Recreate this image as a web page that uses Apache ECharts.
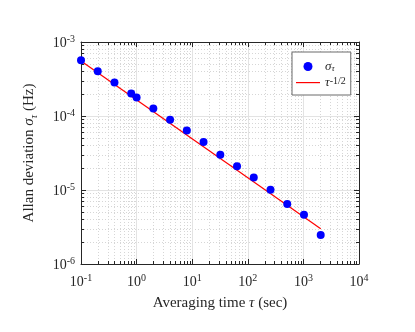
<!DOCTYPE html>
<html>
<head>
<meta charset="utf-8">
<script src="https://cdn.jsdelivr.net/npm/echarts@6/dist/echarts.min.js"></script>
<style>
  html, body { margin: 0; padding: 0; background: #fff; }
  #chart { width: 415px; height: 332px; }
</style>
</head>
<body>
<div id="chart"></div>
<script>
// averaging time tau (sec) and measured Allan deviation (Hz)
const tau = [0.1, 0.2, 0.4, 0.8, 1, 2, 4, 8, 16, 32, 64, 128, 256, 512, 1024, 2048];
const sigma = [5.66e-4, 4.03e-4, 2.83e-4, 2.01e-4, 1.78e-4, 1.26e-4, 8.9e-5, 6.38e-5,
               4.45e-5, 3.0e-5, 2.09e-5, 1.47e-5, 1.01e-5, 6.45e-6, 4.62e-6, 2.46e-6];
// tau^-1/2 reference line, read at both ends
const fitTau = [0.1, 2048];
const fitSigma = [5.55e-4, 3.0e-6];
// axis ranges (decades)
const xRange = [0.1, 1e4];
const yRange = [1e-6, 1e-3];
const xDecades = [-1, 0, 1, 2, 3];
const yDecades = [-6, -5, -4];

const FONT = 'Liberation Serif';
const AXIS = '#262626';

const chart = echarts.init(document.getElementById('chart'), null, { renderer: 'canvas' });

const supRich = {
  b: { fontFamily: FONT, fontSize: 14, color: AXIS, lineHeight: 16, verticalAlign: 'bottom' },
  sup: { fontFamily: FONT, fontSize: 10, color: AXIS, lineHeight: 12, verticalAlign: 'top', padding: [0, 0, 8, 0] }
};
const powLabel = v => '{b|10}{sup|' + Math.round(Math.log10(v)) + '}';

const baseAxis = {
  type: 'log',
  logBase: 10,
  axisLine: { show: true, onZero: false, lineStyle: { color: AXIS, width: 1 } },
  axisTick: { show: true, inside: true, length: 5, lineStyle: { color: AXIS } },
  minorTick: { show: false },
  splitLine: { show: false }
};

chart.setOption({
  animation: false,
  grid: { left: 81, right: 56, top: 42, bottom: 68 },
  xAxis: [
    Object.assign({}, baseAxis, {
      min: xRange[0], max: xRange[1], position: 'bottom',
      splitLine: { show: true, lineStyle: { color: '#e3e3e3', width: 1 } },
      axisLabel: { formatter: powLabel, rich: supRich, margin: 9 },
      name: '{t|Averaging time }{i|τ}{t| (sec)}',
      nameLocation: 'middle', nameGap: 29,
      nameTextStyle: {
        rich: {
          t: { fontFamily: FONT, fontSize: 15, color: AXIS },
          i: { fontFamily: FONT, fontSize: 15, color: AXIS, fontStyle: 'italic' }
        }
      }
    }),
    Object.assign({}, baseAxis, {
      min: xRange[0], max: xRange[1], position: 'top',
      axisLabel: { show: false }
    })
  ],
  yAxis: [
    Object.assign({}, baseAxis, {
      min: yRange[0], max: yRange[1], position: 'left',
      splitLine: { show: true, lineStyle: { color: '#e3e3e3', width: 1 } },
      axisLabel: { formatter: powLabel, rich: supRich, margin: 6 },
      name: '{t|Allan deviation }{i|σ}{sub|τ}{t| (Hz)}',
      nameLocation: 'middle', nameGap: 42,
      nameTextStyle: {
        rich: {
          t: { fontFamily: FONT, fontSize: 15, color: AXIS, lineHeight: 17, verticalAlign: 'top' },
          i: { fontFamily: FONT, fontSize: 15, color: AXIS, fontStyle: 'italic', lineHeight: 17, verticalAlign: 'top' },
          sub: { fontFamily: FONT, fontSize: 10, color: AXIS, fontStyle: 'italic', lineHeight: 12, verticalAlign: 'bottom', padding: [9, 0, 0, 0] }
        }
      }
    }),
    Object.assign({}, baseAxis, {
      min: yRange[0], max: yRange[1], position: 'right',
      axisLabel: { show: false }
    })
  ],
  legend: {
    orient: 'vertical',
    left: 292, top: 52,
    padding: [4, 5, 3, 4],
    itemGap: 3,
    itemWidth: 24,
    itemHeight: 9,
    backgroundColor: '#fff',
    borderColor: '#6b6b6b',
    borderWidth: 1,
    data: [
      { name: 'sigma', icon: 'circle' },
      { name: 'fit', icon: 'path://M0,0 M0,4 L24,4 L24,5.2 L0,5.2 Z M24,9' }
    ],
    formatter: n => n === 'sigma' ? '{i|σ}{sub|τ}' : '{i|τ}{sup|-1/2}',
    textStyle: {
      rich: {
        i: { fontFamily: FONT, fontSize: 13, color: AXIS, fontStyle: 'italic', lineHeight: 13, verticalAlign: 'middle' },
        sub: { fontFamily: FONT, fontSize: 9, color: AXIS, fontStyle: 'italic', lineHeight: 10, verticalAlign: 'bottom', padding: [8, 0, 0, 0] },
        sup: { fontFamily: FONT, fontSize: 10, color: AXIS, lineHeight: 11, verticalAlign: 'top', padding: [0, 0, 6, 0] }
      }
    }
  },
  series: [
    {
      name: 'fit',
      type: 'line',
      data: fitTau.map((t, i) => [t, fitSigma[i]]),
      symbol: 'none',
      lineStyle: { color: '#ff0000', width: 1.2 },
      itemStyle: { color: '#ff0000' },
      z: 3
    },
    {
      name: 'sigma',
      type: 'scatter',
      data: tau.map((t, i) => [t, sigma[i]]),
      symbol: 'circle',
      symbolSize: 8,
      itemStyle: { color: '#0000ff', opacity: 1 },
      z: 4
    }
  ]
});

// minor grid lines (dotted) and minor ticks on all four sides, placed via the axis scales
const px = v => chart.convertToPixel({ xAxisIndex: 0 }, v);
const py = v => chart.convertToPixel({ yAxisIndex: 0 }, v);
const x0 = px(xRange[0]), x1 = px(xRange[1]);
const y0 = py(yRange[0]), y1 = py(yRange[1]);
const els = [];
const dotted = { stroke: '#d6d6d6', lineWidth: 1, lineDash: [1, 2] };
const tickStyle = { stroke: AXIS, lineWidth: 1 };
xDecades.forEach(k => {
  for (let m = 2; m <= 9; m++) {
    const x = Math.round(px(m * Math.pow(10, k))) + 0.5;
    els.push({ type: 'line', z: -1, silent: true, shape: { x1: x, y1: y1, x2: x, y2: y0 }, style: dotted });
    els.push({ type: 'line', silent: true, shape: { x1: x, y1: y0, x2: x, y2: y0 - 3 }, style: tickStyle });
    els.push({ type: 'line', silent: true, shape: { x1: x, y1: y1, x2: x, y2: y1 + 3 }, style: tickStyle });
  }
});
yDecades.forEach(k => {
  for (let m = 2; m <= 9; m++) {
    const y = Math.round(py(m * Math.pow(10, k))) + 0.5;
    els.push({ type: 'line', z: -1, silent: true, shape: { x1: x0, y1: y, x2: x1, y2: y }, style: dotted });
    els.push({ type: 'line', silent: true, shape: { x1: x0, y1: y, x2: x0 + 3, y2: y }, style: tickStyle });
    els.push({ type: 'line', silent: true, shape: { x1: x1, y1: y, x2: x1 - 3, y2: y }, style: tickStyle });
  }
});
chart.setOption({ graphic: els });
</script>
</body>
</html>
